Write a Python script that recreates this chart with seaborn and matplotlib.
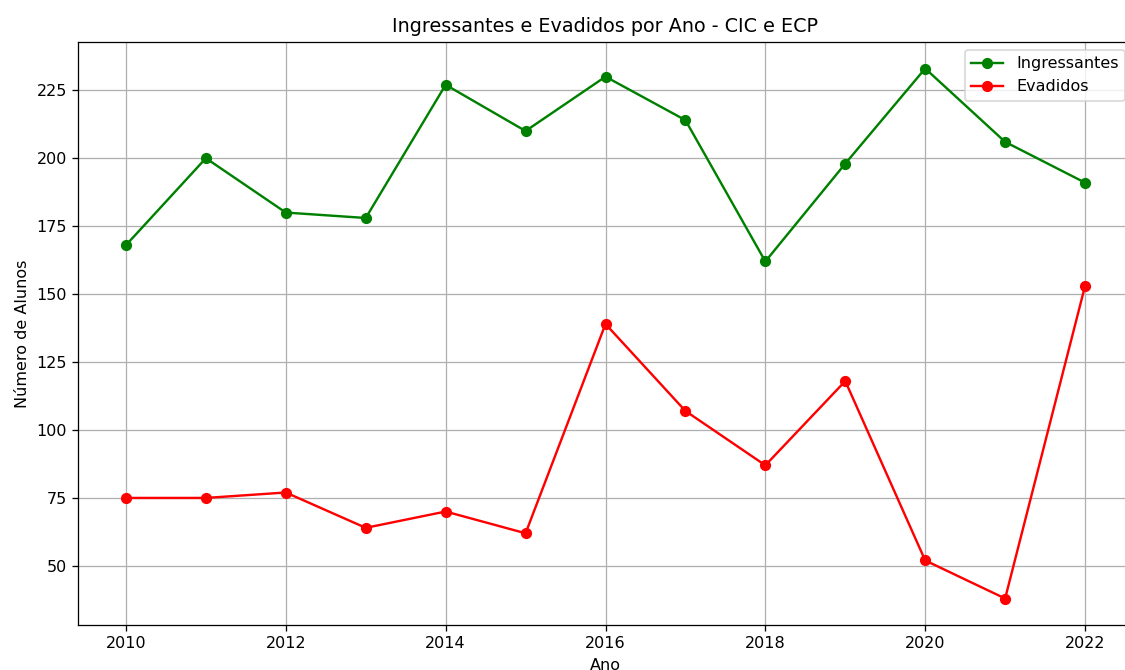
import pandas as pd
import seaborn as sns
import matplotlib.pyplot as plt

# Values
anos = [2010, 2011, 2012, 2013, 2014, 2015, 2016, 2017, 2018, 2019, 2020, 2021, 2022]
ingressantes = [168, 200, 180, 178, 227, 210, 230, 214, 162, 198, 233, 206, 191]
evadidos = [75, 75, 77, 64, 70, 62, 139, 107, 87, 118, 52, 38, 153]

df = pd.DataFrame({'Ano': anos, 'Ingressantes': ingressantes, 'Evadidos': evadidos})

# reference looks rendered at a higher dpi, so scale everything via dpi
DPI = 115
fig = plt.figure(figsize=(1125 / DPI, 670 / DPI), dpi=DPI)
# the reference is a crop: the right side of the axes runs past the image edge
ax = fig.add_axes([78 / 1125, 45 / 670, 1055 / 1125, 583 / 670])

sns.lineplot(data=df, x='Ano', y='Ingressantes', ax=ax, color='green', marker='o',
             markersize=6, markeredgecolor='green', markeredgewidth=1, label='Ingressantes')
sns.lineplot(data=df, x='Ano', y='Evadidos', ax=ax, color='red', marker='o',
             markersize=6, markeredgecolor='red', markeredgewidth=1, label='Evadidos')

ax.set_title('Ingressantes e Evadidos por Ano - CIC e ECP', fontsize=12)
ax.set_xlabel('Ano')
ax.set_ylabel('Número de Alunos')
ax.grid(True)
ax.legend(loc='upper right')

fig.savefig('out.png', dpi=DPI)
